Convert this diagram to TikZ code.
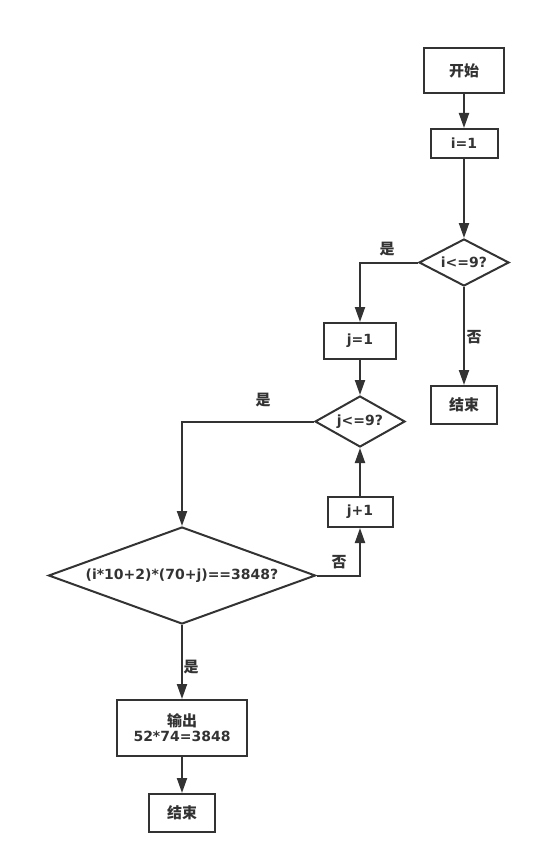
\documentclass[tikz,border=0pt]{standalone}
\usepackage{fontspec}
\setmainfont{DejaVu Sans}
\newfontfamily\cjk{Noto Sans CJK SC}
\usetikzlibrary{shapes.geometric,arrows.meta}
\definecolor{ink}{HTML}{333333}
\tikzset{
  x=1pt,y=-1pt,
  every node/.style={font=\bfseries\fontsize{14}{17}\selectfont, text=ink},
  box/.style={draw=ink, line width=2pt, rectangle, inner sep=0pt, align=center},
  dia/.style={draw=ink, line width=2pt, diamond, inner sep=0pt},
  flow/.style={draw=ink, line width=2pt, -{Triangle[length=15pt,width=10pt]}},
  lab/.style={font=\cjk\bfseries\fontsize{15}{18}\selectfont}
}
\newcommand{\zh}[1]{{\cjk\bfseries\fontsize{15}{18}\selectfont #1}}
\begin{document}
\begin{tikzpicture}
\useasboundingbox (0,0) rectangle (541,864);
\node[box, minimum width=80, minimum height=45] (start) at (464,70.5) {\zh{开始}};
\node[box, minimum width=67, minimum height=29] (i1) at (464,143.5) {i=1};
\node[dia, minimum width=90, minimum height=47, shape aspect=1.9] (d1) at (464,262.5) {i<=9?};
\node[box, minimum width=72, minimum height=36] (j1) at (360,341) {j=1};
\node[box, minimum width=66, minimum height=38] (end1) at (464,405) {\zh{结束}};
\node[dia, minimum width=90, minimum height=51, shape aspect=1.8] (d2) at (360,421.5) {j<=9?};
\node[box, minimum width=65, minimum height=30] (jp1) at (360,512) {j+1};
\node[dia, minimum width=267, minimum height=97, shape aspect=2.75] (big) at (182,575.5) {(i*10+2)*(70+j)==3848?};
\node[box, minimum width=130, minimum height=56] (out) at (182,728) {\zh{输出}\\[-2pt]52*74=3848};
\node[box, minimum width=66, minimum height=38] (end2) at (182,813) {\zh{结束}};

\draw[flow] (start) -- (i1);
\draw[flow] (i1) -- (d1);
\draw[flow] (d1.west) -| (j1.north);
\draw[flow] (d1.south) -- (end1.north);
\draw[flow] (j1) -- (d2);
\draw[flow] (d2.west) -| (big.north);
\draw[flow] (big.east) -| (jp1.south);
\draw[flow] (jp1.north) -- (d2.south);
\draw[flow] (big.south) -- (out.north);
\draw[flow] (out) -- (end2);

\node[lab] (l1) at (387,249) {是};
\node[lab] (l2) at (474,337) {否};
\node[lab] (l3) at (263,400) {是};
\node[lab] (l4) at (339,562) {否};
\node[lab] (l5) at (191,667) {是};
\end{tikzpicture}
\end{document}
